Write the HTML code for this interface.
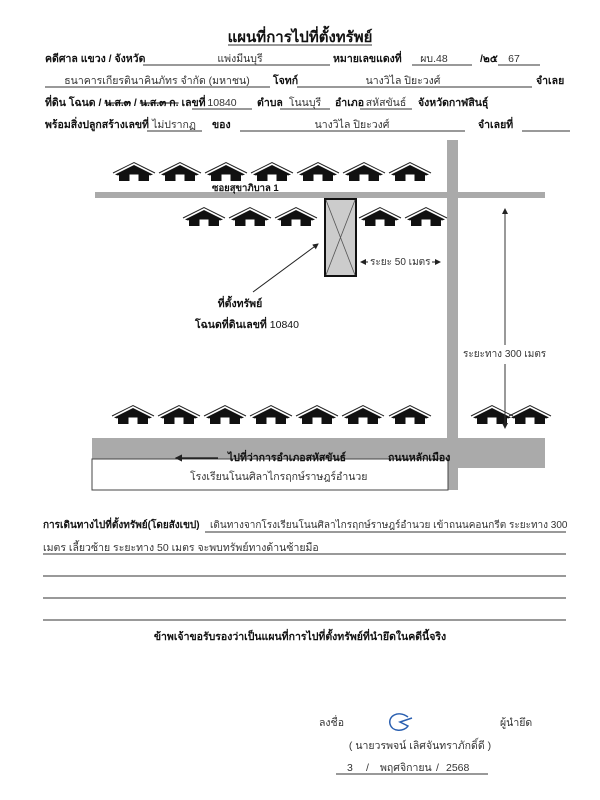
<!DOCTYPE html>
<html><head><meta charset="utf-8"><style>
html,body{margin:0;padding:0;background:#fff;}
svg{display:block;font-family:"Liberation Sans","DejaVu Sans","Noto Sans CJK SC",sans-serif;}
.b{font-weight:bold;font-size:10.5px;fill:#111;}
.n{font-size:10.5px;fill:#333;}
.u{stroke:#333;stroke-width:0.9;}
</style></head><body>
<svg width="600" height="800" viewBox="0 0 600 800" xmlns="http://www.w3.org/2000/svg">
<defs>
<symbol id="h" viewBox="-22 0 44 20" overflow="visible">
<polyline points="-21,11 0,0.5 21,11" fill="none" stroke="#222" stroke-width="1"/>
<polygon points="-19,12.5 0,3 19,12.5 16,13.5 0,6.5 -16,13.5" fill="#111"/>
<polygon points="-15,12 0,6 15,12 15,19 -15,19" fill="#111"/>
<rect x="-4.5" y="12.5" width="9" height="6.5" fill="#fff"/>
</symbol>
<marker id="ar" markerWidth="6" markerHeight="6" refX="5" refY="3" orient="auto"><path d="M0,0 L6,3 L0,6z" fill="#222"/></marker>
</defs>

<text x="300" y="42" text-anchor="middle" style="font-weight:bold;font-size:15px;fill:#111">แผนที่การไปที่ตั้งทรัพย์</text>
<line class="u" x1="228" y1="45" x2="372" y2="45"/>

<text class="b" x="45" y="62">คดีศาล แขวง / จังหวัด</text>
<line class="u" x1="143" y1="65" x2="330" y2="65"/>
<text class="n" x="240" y="62" text-anchor="middle">แพ่งมีนบุรี</text>
<text class="b" x="333" y="62">หมายเลขแดงที่</text>
<line class="u" x1="412" y1="65" x2="472" y2="65"/>
<text class="n" x="434" y="62" text-anchor="middle">ผบ.48</text>
<text class="b" x="480" y="62">/๒๕</text>
<line class="u" x1="498" y1="65" x2="540" y2="65"/>
<text class="n" x="514" y="62" text-anchor="middle">67</text>

<line class="u" x1="45" y1="87" x2="270" y2="87"/>
<text class="n" x="157" y="84" text-anchor="middle">ธนาคารเกียรตินาคินภัทร จำกัด (มหาชน)</text>
<text class="b" x="273" y="84">โจทก์</text>
<line class="u" x1="297" y1="87" x2="532" y2="87"/>
<text class="n" x="403" y="84" text-anchor="middle">นางวิไล ปิยะวงศ์</text>
<text class="b" x="536" y="84">จำเลย</text>

<text class="b" x="45" y="106">ที่ดิน โฉนด / <tspan text-decoration="line-through">น.ส.๓</tspan> / <tspan text-decoration="line-through">น.ส.๓ ก.</tspan> เลขที่</text>
<line class="u" x1="192" y1="109" x2="252" y2="109"/>
<text class="n" x="222" y="106" text-anchor="middle">10840</text>
<text class="b" x="257" y="106">ตำบล</text>
<line class="u" x1="280" y1="109" x2="330" y2="109"/>
<text class="n" x="305" y="106" text-anchor="middle">โนนบุรี</text>
<text class="b" x="335" y="106">อำเภอ</text>
<line class="u" x1="360" y1="109" x2="412" y2="109"/>
<text class="n" x="386" y="106" text-anchor="middle">สหัสขันธ์</text>
<text class="b" x="418" y="106">จังหวัดกาฬสินธุ์</text>

<text class="b" x="45" y="128">พร้อมสิ่งปลูกสร้างเลขที่</text>
<line class="u" x1="147" y1="131" x2="202" y2="131"/>
<text class="n" x="174" y="128" text-anchor="middle">ไม่ปรากฏ</text>
<text class="b" x="212" y="128">ของ</text>
<line class="u" x1="240" y1="131" x2="465" y2="131"/>
<text class="n" x="352" y="128" text-anchor="middle">นางวิไล ปิยะวงศ์</text>
<text class="b" x="478" y="128">จำเลยที่</text>
<line class="u" x1="522" y1="131" x2="570" y2="131"/>

<rect x="95" y="192" width="450" height="6" fill="#aaa"/>
<rect x="447" y="140" width="11" height="350" fill="#aaa"/>
<rect x="92" y="438" width="453" height="30" fill="#aaa"/>
<rect x="92" y="459" width="356" height="31" fill="#fff" stroke="#444" stroke-width="1"/>

<text class="b" x="212" y="191" style="font-size:9.5px">ซอยสุขาภิบาล 1</text>

<use href="#h" x="112" y="162" width="44" height="20"/>
<use href="#h" x="158" y="162" width="44" height="20"/>
<use href="#h" x="204" y="162" width="44" height="20"/>
<use href="#h" x="250" y="162" width="44" height="20"/>
<use href="#h" x="296" y="162" width="44" height="20"/>
<use href="#h" x="342" y="162" width="44" height="20"/>
<use href="#h" x="388" y="162" width="44" height="20"/>

<use href="#h" x="182" y="207" width="44" height="20"/>
<use href="#h" x="228" y="207" width="44" height="20"/>
<use href="#h" x="274" y="207" width="44" height="20"/>
<use href="#h" x="358" y="207" width="44" height="20"/>
<use href="#h" x="404" y="207" width="44" height="20"/>

<use href="#h" x="111" y="405" width="44" height="20"/>
<use href="#h" x="157" y="405" width="44" height="20"/>
<use href="#h" x="203" y="405" width="44" height="20"/>
<use href="#h" x="249" y="405" width="44" height="20"/>
<use href="#h" x="295" y="405" width="44" height="20"/>
<use href="#h" x="341" y="405" width="44" height="20"/>
<use href="#h" x="388" y="405" width="44" height="20"/>
<use href="#h" x="470" y="405" width="44" height="20"/>
<use href="#h" x="508" y="405" width="44" height="20"/>

<rect x="325" y="199" width="31" height="77" fill="#ccc" stroke="#111" stroke-width="2"/>
<line x1="326" y1="200" x2="355" y2="275" stroke="#555" stroke-width="0.8"/>
<line x1="355" y1="200" x2="326" y2="275" stroke="#555" stroke-width="0.8"/>
<line x1="253" y1="292" x2="318" y2="244" stroke="#222" stroke-width="1" marker-end="url(#ar)"/>
<text class="b" x="240" y="307" text-anchor="middle">ที่ตั้งทรัพย์</text>
<text class="b" x="247" y="328" text-anchor="middle">โฉนดที่ดินเลขที่ <tspan style="font-weight:normal">10840</tspan></text>

<line x1="368" y1="262" x2="361" y2="262" stroke="#222" marker-end="url(#ar)"/>
<text class="n" x="370" y="265" style="font-size:10px">ระยะ 50 เมตร</text>
<line x1="432" y1="262" x2="440" y2="262" stroke="#222" marker-end="url(#ar)"/>

<line x1="505" y1="345" x2="505" y2="209" stroke="#333" marker-end="url(#ar)"/>
<text class="n" x="463" y="357" style="font-size:10px">ระยะทาง 300 เมตร</text>
<line x1="505" y1="364" x2="505" y2="428" stroke="#333" marker-end="url(#ar)"/>

<line x1="218" y1="458" x2="176" y2="458" stroke="#111" stroke-width="1.2" marker-end="url(#ar)"/>
<text class="b" x="228" y="461">ไปที่ว่าการอำเภอสหัสขันธ์</text>
<text class="b" x="388" y="461">ถนนหลักเมือง</text>
<text class="n" x="190" y="480">โรงเรียนโนนศิลาไกรฤกษ์ราษฎร์อำนวย</text>

<text class="b" x="43" y="528" style="font-size:10px">การเดินทางไปที่ตั้งทรัพย์(โดยสังเขป)</text>
<text class="n" x="210" y="528" style="font-size:10px">เดินทางจากโรงเรียนโนนศิลาไกรฤกษ์ราษฎร์อำนวย เข้าถนนคอนกรีต ระยะทาง 300</text>
<line class="u" x1="205" y1="532" x2="566" y2="532"/>
<text class="n" x="43" y="551">เมตร เลี้ยวซ้าย ระยะทาง 50 เมตร จะพบทรัพย์ทางด้านซ้ายมือ</text>
<line class="u" x1="43" y1="554" x2="566" y2="554"/>
<line class="u" x1="43" y1="576" x2="566" y2="576"/>
<line class="u" x1="43" y1="598" x2="566" y2="598"/>
<line class="u" x1="43" y1="620" x2="566" y2="620"/>
<text class="b" x="300" y="640" text-anchor="middle">ข้าพเจ้าขอรับรองว่าเป็นแผนที่การไปที่ตั้งทรัพย์ที่นำยึดในคดีนี้จริง</text>

<text class="n" x="319" y="726">ลงชื่อ</text>
<path d="M408,717 C398,710 388,716 390,724 C392,732 404,732 408,726 L400,722 L412,718" fill="none" stroke="#2a5fb0" stroke-width="1.5"/>
<text class="n" x="500" y="726">ผู้นำยึด</text>
<text class="n" x="420" y="749" text-anchor="middle">( นายวรพจน์ เลิศจันทราภักดิ์ดี )</text>
<text class="n" x="347" y="771">3</text>
<text class="n" x="366" y="771">/</text>
<text class="n" x="380" y="771">พฤศจิกายน</text>
<text class="n" x="436" y="771">/</text>
<text class="n" x="446" y="771">2568</text>
<line class="u" x1="336" y1="774" x2="488" y2="774"/>
</svg>
</body></html>
